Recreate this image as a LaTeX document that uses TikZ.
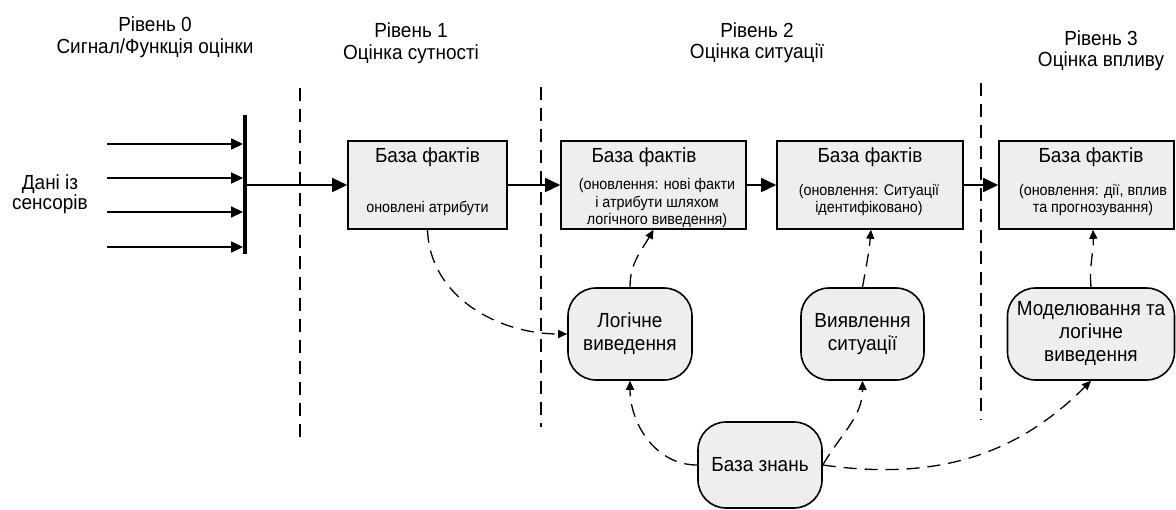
\documentclass[tikz,border=0pt]{standalone}
\usepackage{fontspec}
\setmainfont[FakeStretch=0.93]{Liberation Sans}
\usetikzlibrary{arrows.meta,calc}
\definecolor{boxgray}{HTML}{EEEEEE}
\newcommand\BigTxt{\fontsize{20.4}{22}\selectfont}
\newcommand\SmTxt{\fontsize{15.4}{17.5}\selectfont}
\begin{document}
\begin{tikzpicture}[x=1pt,y=1pt,
  factbox/.style={draw, line width=1.6pt, fill=boxgray, minimum height=88pt, inner sep=0pt},
  procbox/.style={draw, line width=1.6pt, fill=boxgray, rounded corners=28pt, minimum height=92pt, inner sep=0pt, align=center, font=\fontsize{20.4}{23}\selectfont},
  ttl/.style={align=center, font=\fontsize{20.4}{21.5}\selectfont, inner sep=0pt},
  hd/.style={font=\BigTxt, inner sep=0pt},
  det/.style={align=center, font=\SmTxt, inner sep=0pt},
  flow/.style={line width=1.6pt, -{Triangle[length=15pt,width=14pt]}},
  sens/.style={line width=1.6pt, -{Triangle[length=12pt,width=11pt]}},
  dasharr/.style={line width=1.3pt, dash pattern=on 13pt off 8pt, -{Triangle[length=9pt,width=8pt]}},
  sepline/.style={line width=1.3pt, dash pattern=on 13pt off 8pt},
]
\useasboundingbox (0,0) rectangle (1176,-509);

% titles
\node[ttl] (t0) at (155,-37) {Рівень 0\\Сигнал/Функція оцінки};
\node[ttl] (t1) at (411,-43) {Рівень 1\\Оцінка сутності};
\node[ttl] (t2) at (757,-42.5) {Рівень 2\\Оцінка ситуації};
\node[ttl] (t3) at (1101,-50.5) {Рівень 3\\Оцінка впливу};

% separators
\coordinate (d1t) at (300,-88);  \coordinate (d1b) at (300,-438);
\coordinate (d2t) at (541,-87);  \coordinate (d2b) at (541,-427);
\coordinate (d3t) at (981,-83);  \coordinate (d3b) at (981,-420);
\draw[sepline] (d1t) -- (d1b);
\draw[sepline] (d2t) -- (d2b);
\draw[sepline] (d3t) -- (d3b);

% sensors
\node[ttl, font=\fontsize{20.4}{20.5}\selectfont] (src) at (50,-194) {Дані із\\сенсорів};
\node[fill=black, minimum width=3.5pt, minimum height=139pt, inner sep=0pt] (bar) at (245,-184.5) {};
\foreach \yy [count=\i] in {144,178,212,247} {
  \coordinate (s\i) at (107,-\yy);
  \draw[sens] (s\i) -- (bar.west |- s\i);
}

% fact boxes
\node[factbox, minimum width=159pt] (b1) at (427.5,-185) {};
\node[factbox, minimum width=185pt] (b2) at (653.5,-185) {};
\node[factbox, minimum width=186pt] (b3) at (870,-185) {};
\node[factbox, minimum width=175pt] (b4) at (1086.5,-185) {};

\node[hd] (b1h) at (427.5,-157) {База фактів};
\node[det] (b1d) at (427.5,-208) {оновлені атрибути};
\node[hd] (b2h) at (644,-157) {База фактів};
\node[det] (b2d) at (657,-203.5) {(оновлення: нові факти\\і атрибути шляхом\\логічного виведення)};
\node[hd] (b3h) at (870,-157) {База фактів};
\node[det] (b3d) at (869,-200) {(оновлення: Ситуації\\ідентифіковано)};
\node[hd] (b4h) at (1091,-157) {База фактів};
\node[det] (b4d) at (1093,-200) {(оновлення: дії, вплив\\та прогнозування)};

% process nodes
\node[procbox, minimum width=124pt] (L) at (630,-334) {Логічне\\виведення};
\node[procbox, minimum width=123pt] (V) at (862.5,-334) {Виявлення\\ситуації};
\node[procbox, minimum width=167pt] (M) at (1091,-334) {Моделювання та\\логічне\\виведення};
\node[procbox, minimum width=124pt, minimum height=86pt] (K) at (760,-465) {База знань};

% solid flow
\draw[flow] (bar.east |- b1.west) -- (b1.west);
\draw[flow] (b1.east) -- (b2.west);
\draw[flow] (b2.east) -- (b3.west);
\draw[flow] (b3.east) -- (b4.west);

% dashed arrows
\draw[dasharr] (b1.south) to[out=-88,in=180] (L.west);
\draw[dasharr] (L.north) to[out=90,in=-120] (b2.south);
\draw[dasharr] (V.north) to[out=80,in=-95] ($(b3.south)+(1,0)$);
\draw[dasharr] (M.north) to[out=95,in=-88] ($(b4.south)+(6.5,0)$);
\draw[dasharr] (K.west) to[out=180,in=-90] (L.south);
\draw[dasharr] (K.east) to[out=60,in=-90] (V.south);
\draw[dasharr] (K.east) to[out=-8,in=-135] (M.south);
\end{tikzpicture}
\end{document}
